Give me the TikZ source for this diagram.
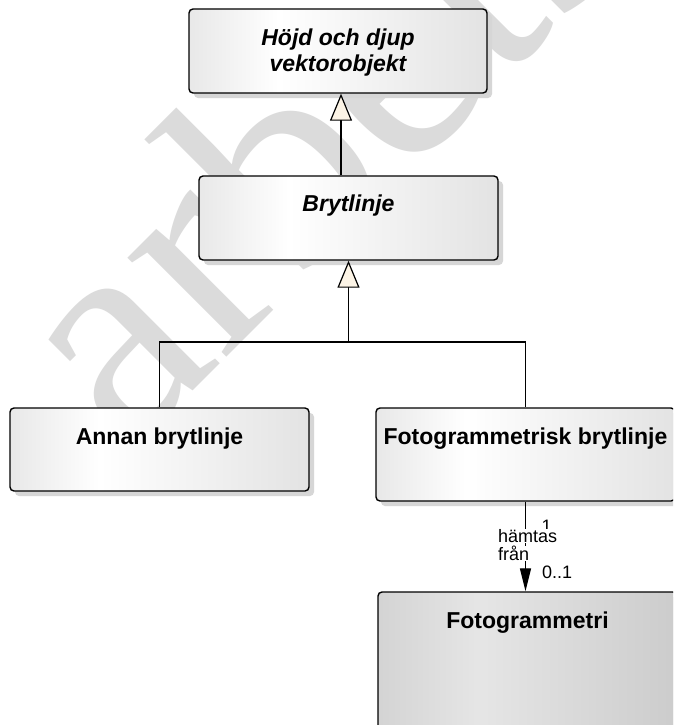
\documentclass[tikz,border=0pt]{standalone}
\usepackage{fontspec}
\setmainfont{Liberation Sans}
\newfontfamily\wmfont{Liberation Serif}
\usetikzlibrary{arrows.meta,shadows}

\definecolor{genfill}{RGB}{252,244,230}
% horizontal box fills (25bp..75bp spans the box)
\pgfdeclarehorizontalshading{lightbox}{100bp}{color(0bp)=(black!9); color(25bp)=(black!9); color(40bp)=(white); color(75bp)=(black!11); color(100bp)=(black!11)}
\pgfdeclarehorizontalshading{darkbox}{100bp}{color(0bp)=(black!17); color(25bp)=(black!17); color(42bp)=(black!10); color(75bp)=(black!20); color(100bp)=(black!20)}

\tikzset{
  classbox/.style={draw=black, line width=1.4pt, rounded corners=4pt,
    shading=lightbox, inner sep=0pt, minimum width=299pt,
    drop shadow={shadow xshift=5pt, shadow yshift=-5pt, fill=black!16, opacity=1}},
  darkclass/.style={classbox, shading=darkbox},
  title/.style={inner sep=0pt, anchor=base, font=\bfseries\fontsize{23}{26}\selectfont},
  abstitle/.style={title, font=\bfseries\itshape\fontsize{23}{26}\selectfont},
  rolelabel/.style={inner sep=0pt, font=\fontsize{18}{18}\selectfont},
  conn/.style={line width=1.3pt},
  gen/.style={conn, -{Triangle[width=22pt,length=27pt,fill=genfill,line width=1.2pt]}},
  assoc/.style={conn, -{Triangle[width=11pt,length=23pt]}},
  wmark/.style={inner sep=0pt, text=black!14, font=\wmfont\fontsize{305}{305}\selectfont}
}

\begin{document}
\begin{tikzpicture}[x=1pt, y=-1pt]
  \useasboundingbox (0,0) rectangle (673,725);
  \clip (0,0) rectangle (673,725);
  \fill[white] (0,0) rectangle (673,725);

  % background watermark
  \node[wmark, rotate=45, anchor=base west] (wm) at (127,457) {arbets};

  % classes
  \node[classbox, minimum width=298pt, minimum height=84pt] (hojd) at (338,51) {};
  \node[classbox, minimum height=84pt] (bryt) at (348.5,218) {};
  \node[classbox, minimum height=83pt] (annan) at (159.5,449.5) {};
  \node[classbox, minimum height=93pt] (fotob) at (525.5,454.5) {};
  \node[darkclass, minimum height=150pt] (fotog) at (527.5,667) {};

  % class names
  \node[abstitle, anchor=north, align=center] (hojdt) at ([yshift=-20.5pt]hojd.north) {Höjd och djup\\vektorobjekt};
  \node[abstitle] (brytt) at ([yshift=-36pt]bryt.north) {Brytlinje};
  \node[title] (annant) at ([yshift=-37pt]annan.north) {Annan brytlinje};
  \node[title] (fotobt) at ([yshift=-37pt]fotob.north) {Fotogrammetrisk brytlinje};
  \node[title] (fotogt) at ([yshift=-37pt]fotog.north) {Fotogrammetri};

  % generalizations
  \coordinate (junc) at (348.5,342);
  \draw[gen] ([xshift=-7.5pt]bryt.north) -- ([xshift=3pt]hojd.south);
  \draw[conn] (annan.north) -- (annan.north |- junc) -- (fotob.north |- junc) -- (fotob.north);
  \draw[gen] (junc) -- (bryt.south);

  % association
  \draw[assoc] (fotob.south) -- (fotob.south |- fotog.north);
  \node[rolelabel, anchor=base] (mult1) at ([xshift=21pt, yshift=-31pt]fotob.south) {1};
  \node[rolelabel, anchor=base west, fill=white, inner ysep=0.5pt] (role1) at ([xshift=-27.5pt, yshift=-40.5pt]fotob.south) {hämtas};
  \node[rolelabel, anchor=base west, fill=white, inner ysep=0.5pt] (role2) at ([xshift=-27.5pt, yshift=-59pt]fotob.south) {från};
  \node[rolelabel, anchor=base west] (mult2) at ([xshift=14.5pt, yshift=13pt]fotog.north) {0..1};
\end{tikzpicture}
\end{document}
